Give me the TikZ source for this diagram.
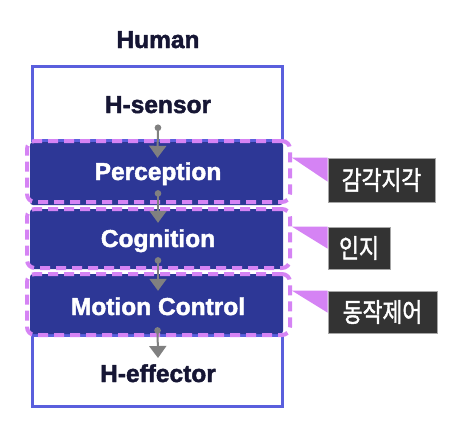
\documentclass[tikz,border=0pt]{standalone}
\usepackage{fontspec}
\setmainfont{Liberation Sans}[BoldFeatures={FakeBold=1.8}]
\newfontfamily\cjk{Noto Sans CJK KR}[FakeBold=1.8]
\usetikzlibrary{arrows.meta}
\definecolor{navy}{HTML}{2D3796}
\definecolor{rim}{HTML}{5A5FDD}
\definecolor{lilac}{HTML}{D583F4}
\definecolor{ink}{HTML}{161634}
\definecolor{tag}{HTML}{333333}
\definecolor{flowgray}{HTML}{808080}
\tikzset{
  whitebox/.style={draw=rim, line width=3pt, fill=white, inner sep=0pt},
  navybox/.style={fill=navy, rounded corners=3pt, inner sep=0pt},
  grp/.style={draw=lilac, line width=4pt, dash pattern=on 10pt off 6pt, rounded corners=8pt, inner sep=0pt},
  darktxt/.style={font=\bfseries\fontsize{24.5}{24.5}\selectfont, text=ink, anchor=base, inner sep=0pt},
  lighttxt/.style={font=\bfseries\fontsize{24.5}{24.5}\selectfont, text=white, anchor=base, inner sep=0pt},
  tagbox/.style={fill=tag, draw=gray!70, line width=0.6pt, inner sep=0pt, font=\cjk\fontsize{24}{24}\selectfont, text=white},
  flow/.style={draw=flowgray, line width=2pt, {Circle[length=6.5pt]}-{Triangle[width=17pt,length=12pt]}},
  wedge/.style={fill=lilac}
}
\begin{document}
\begin{tikzpicture}[x=1pt,y=-1pt]
\useasboundingbox (0,0) rectangle (462,432);
% white boxes
\node[whitebox, minimum width=250pt, minimum height=74pt] (hs) at (157,103) {};
\node[whitebox, minimum width=250pt, minimum height=71pt] (he) at (157,371) {};
% navy blocks
\node[navybox, minimum width=253pt, minimum height=63pt] (per) at (156.5,173.5) {};
\node[navybox, minimum width=253pt, minimum height=60pt] (cog) at (156.5,239) {};
\node[navybox, minimum width=253pt, minimum height=60pt] (mot) at (156.5,304) {};
% dashed groups
\node[grp, minimum width=263pt, minimum height=61pt] (gp) at (158.5,171.5) {};
\node[grp, minimum width=263pt, minimum height=59pt] (gc) at (158.5,238.5) {};
\node[grp, minimum width=263pt, minimum height=61pt] (gm) at (158.5,304.5) {};
% flow arrows
\draw[flow] ([xshift=1pt,yshift=17pt]hs.south) -- ([xshift=1pt,yshift=-16pt]per.north);
\draw[flow] ([xshift=1.5pt,yshift=15pt]per.south) -- ([xshift=1.5pt,yshift=-14pt]cog.north);
\draw[flow] ([xshift=1.5pt,yshift=12pt]cog.south) -- ([xshift=1.5pt,yshift=-17pt]mot.north);
\draw[flow] ([xshift=1pt,yshift=7pt]mot.south) -- ([xshift=1pt,yshift=-24pt]he.north);
% texts
\node[darktxt] (thuman) at (158,48) {Human};
\node[darktxt] (ths) at (158,113) {H-sensor};
\node[lighttxt] (tper) at (158,180) {Perception};
\node[lighttxt] (tcog) at (158,247) {Cognition};
\node[lighttxt] (tmot) at (158,315) {Motion Control};
\node[darktxt] (the) at (158,382) {H-effector};
% tags
\node[tagbox, minimum width=107pt, minimum height=44pt] (k1) at (381.5,180) {\scalebox{0.9}[1.1]{감각지각}};
\node[tagbox, minimum width=62pt, minimum height=42pt] (k2) at (359,248) {\scalebox{0.9}[1.1]{인지}};
\node[tagbox, minimum width=109pt, minimum height=42pt] (k3) at (382.5,312) {\scalebox{0.9}[1.1]{동작제어}};
% callout wedges
\fill[wedge] (gp.east |- k1.north) -- (k1.north west) -- ([yshift=-24pt]k1.north west) -- cycle;
\fill[wedge] (gc.east |- k2.north) -- (k2.north west) -- ([yshift=-22pt]k2.north west) -- cycle;
\fill[wedge] (gm.east |- k3.north) -- (k3.north west) -- ([yshift=-22pt]k3.north west) -- cycle;
\end{tikzpicture}
\end{document}
